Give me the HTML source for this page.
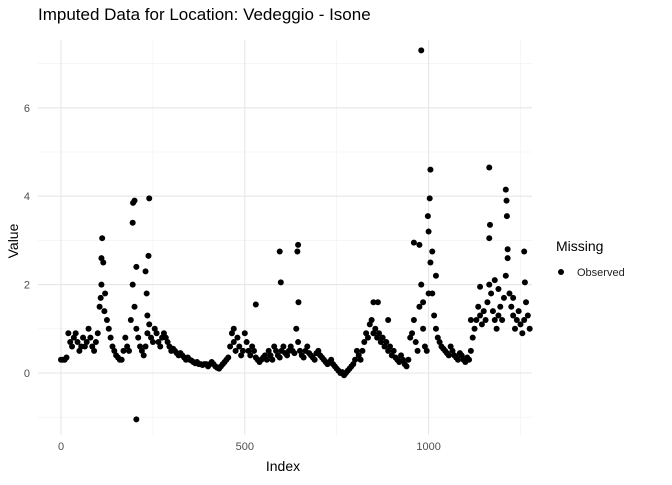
<!DOCTYPE html>
<html><head><meta charset="utf-8"><style>
body{margin:0;background:#fff;font-family:"Liberation Sans",sans-serif}
</style></head><body>
<svg id="chart" width="672" height="480" font-family="Liberation Sans, sans-serif">
<text x="38" y="20" font-size="17" fill="#000">Imputed Data for Location: Vedeggio - Isone</text>
<g id="grid"></g>
<g id="ticks"></g>
<g id="pts"></g>
<text x="283" y="471" font-size="14" text-anchor="middle">Index</text>
<text x="18" y="241" font-size="14" text-anchor="middle" transform="rotate(-90 18 241)">Value</text>
<g>
<text x="556" y="251" font-size="14">Missing</text>
<circle cx="561" cy="272" r="3" fill="#000"/>
<text x="577" y="276" font-size="11" fill="#222">Observed</text>
</g>
</svg>
<script>
const startIdx=0, stepIdx=5;
const values=[0.3,0.3,0.3,0.35,0.9,0.7,0.6,0.8,0.9,0.7,0.5,0.6,
0.8,0.6,0.7,1.0,0.8,0.6,0.5,0.7,0.9,
1.5,2.0,2.5,1.8,1.2,
1.0,0.8,0.6,0.5,0.4,0.35,0.3,
0.3,0.5,0.8,0.6,0.5,1.2,
2.0,1.5,1.0,0.8,0.6,
0.5,0.4,0.6,0.9,1.1,0.8,0.7,
1.0,0.9,0.7,0.6,0.8,0.9,0.8,0.7,0.6,0.5,
0.55,0.5,0.45,0.4,0.45,0.4,0.35,0.3,0.35,0.3,0.28,0.25,0.22,0.25,0.2,0.2,0.18,0.2,0.2,0.15,0.2,0.25,0.2,0.15,0.12,0.1,0.15,0.2,0.25,0.3,0.35,
0.6,0.9,0.7,0.5,0.8,0.6,0.4,0.5,0.9,
0.7,0.5,0.4,0.6,0.5,0.35,0.3,0.25,0.3,0.35,0.4,0.3,
0.5,0.4,0.3,0.6,0.5,0.4,0.35,0.5,0.6,0.45,0.4,0.5,0.6,0.5,0.45,1.0,
0.7,0.5,0.4,0.35,0.5,0.6,0.45,0.4,0.35,0.3,0.45,0.5,
0.4,0.35,0.3,0.25,0.2,0.25,0.3,0.2,0.15,0.1,0.05,0.0,0.02,-0.05,0.0,0.05,0.1,0.15,0.2,0.3,
0.5,0.4,0.3,0.5,0.7,0.9,0.8,1.1,1.2,0.9,
1.0,0.8,0.9,0.7,0.8,0.6,0.7,0.5,0.6,0.4,0.5,0.35,0.3,0.25,0.4,0.3,0.2,0.15,0.3,0.8,
0.9,1.2,0.7,0.5,1.5,2.0,1.0,0.6,0.5,1.8,
2.5,1.8,1.3,1.0,0.8,0.7,0.6,0.55,0.5,0.45,
0.4,0.6,0.5,0.4,0.35,0.3,0.45,0.4,0.3,0.25,0.35,0.3,
0.5,0.8,1.0,1.2,1.5,1.3,1.1,1.4,1.2,1.6,2.0,1.8,1.4,
1.2,1.0,1.3,1.5,1.2,1.7,2.2,2.6,1.8,1.5,1.3,1.0,1.2,1.4,1.1,0.9,1.2,1.6,1.3,1.0];
const extraIdx=[112,110,200,196,195,205,205,230,233,238,240,235,595,598,645,643,646,980,1005,1003,998,1000,1010,960,975,1165,1167,1165,1210,1212,1213,1215,1260,1262,1115,1140,1180,890,862,850,470,530,108,118,1190,1230,1020,985];
const extraVal=[3.05,2.6,3.9,3.85,3.4,-1.05,2.4,2.3,1.8,2.65,3.95,1.3,2.75,2.05,2.9,2.75,1.6,7.3,4.6,3.95,3.55,3.2,2.75,2.95,2.9,4.65,3.35,3.05,4.15,3.9,3.55,2.8,2.75,2.05,1.2,1.95,2.1,1.2,1.6,1.6,1.0,1.55,1.7,1.4,1.9,1.7,2.2,1.6];
const xTicks=[0,500,1000], xMinor=[250,750,1250];
const yTicks=[0,2,4,6], yMinor=[-1,1,3,5,7];
const L=38,R=532,T=40,B=435;
const X=v=>61+v*0.3676;
const Y=v=>373-v*44.2;
const NS="http://www.w3.org/2000/svg";
function mk(t,a,p){const e=document.createElementNS(NS,t);for(const k in a)e.setAttribute(k,a[k]);p.appendChild(e);return e;}
const g=document.getElementById('grid'),tk=document.getElementById('ticks'),pg=document.getElementById('pts');
yMinor.forEach(v=>{const e=mk('line',{x1:L,x2:R,y1:Y(v),y2:Y(v),stroke:'#f0f0f0','stroke-width':0.6},g);

});
xMinor.forEach(v=>{const e=mk('line',{x1:X(v),x2:X(v),y1:T,y2:B,stroke:'#f0f0f0','stroke-width':0.6},g);

});
yTicks.forEach(v=>{const e=mk('line',{x1:L,x2:R,y1:Y(v),y2:Y(v),stroke:'#e6e6e6','stroke-width':1.1},g);


const t=mk('text',{x:30,y:Y(v)+4,'font-size':11,fill:'#4d4d4d','text-anchor':'end'},tk);t.textContent=v;

});
xTicks.forEach(v=>{const e=mk('line',{x1:X(v),x2:X(v),y1:T,y2:B,stroke:'#e6e6e6','stroke-width':1.1},g);


const t=mk('text',{x:X(v),y:450,'font-size':11,fill:'#4d4d4d','text-anchor':'middle'},tk);t.textContent=v;

});
values.forEach((v,i)=>{const c=mk('circle',{cx:X(startIdx+i*stepIdx),cy:Y(v),r:3,fill:'#000'},pg);

});
extraIdx.forEach((ix,i)=>{const c=mk('circle',{cx:X(ix),cy:Y(extraVal[i]),r:3,fill:'#000'},pg);

});
</script>
</body></html>
